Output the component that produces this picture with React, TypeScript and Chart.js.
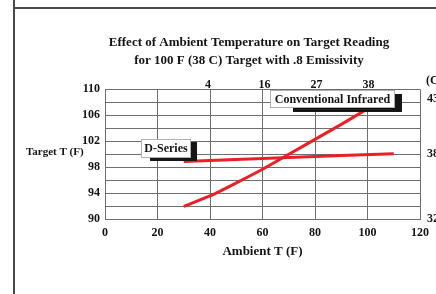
import React, { useEffect, useRef } from 'react';
import { Chart, registerables } from 'chart.js';

Chart.register(...registerables);

const titleLines = [
  'Effect of Ambient Temperature on Target Reading',
  'for 100 F (38 C) Target with .8 Emissivity',
];
const xAxisTitle = 'Ambient T (F)';
const yAxisTitle = 'Target T (F)';
const celsiusUnit = '(C)';

const dSeriesLabel = 'D-Series';
const dSeriesX = [30, 50, 70, 90, 110];
const dSeriesY = [98.9, 99.2, 99.5, 99.8, 100.1];

const conventionalLabel = 'Conventional Infrared';
const conventionalX = [30, 40, 50, 60, 70, 80, 90, 100];
const conventionalY = [92.0, 93.6, 95.6, 97.7, 100.0, 102.3, 104.6, 107.0];

const topTickF = [39.2, 60.8, 80.6, 100.4];
const topTickLabels = ['4', '16', '27', '38'];
const rightTickF = [108.5, 100, 90.1];
const rightTickLabels = ['43', '38', '32'];

const FONT = '"Liberation Serif", "Times New Roman", serif';
const RED = '#ec1f27';
const GRID = '#6e6e6e';
const TEXT = '#141414';

function drawCallout(ctx: CanvasRenderingContext2D, text: string, bx: number, by: number, bw: number, bh: number, sx: number, sy: number, sw: number, sh: number) {
  ctx.save();
  ctx.fillStyle = '#161616';
  ctx.fillRect(sx, sy, sw, sh);
  ctx.fillStyle = '#ffffff';
  ctx.fillRect(bx, by, bw, bh);
  ctx.strokeStyle = '#b0b0b0';
  ctx.lineWidth = 1;
  ctx.strokeRect(bx + 0.5, by + 0.5, bw - 1, bh - 1);
  ctx.fillStyle = TEXT;
  ctx.font = `bold 12px ${FONT}`;
  ctx.textAlign = 'center';
  ctx.textBaseline = 'middle';
  ctx.fillText(text, bx + bw / 2, by + bh / 2 + 0.5);
  ctx.restore();
}

const decorPlugin = {
  id: 'decor',
  beforeDraw(chart: any) {
    const ctx = chart.ctx as CanvasRenderingContext2D;
    ctx.save();
    ctx.fillStyle = '#4a4a4a';
    ctx.fillRect(13, 0, 2, 294);
    ctx.fillRect(13, 7, 436, 2);
    ctx.restore();
  },
  afterDatasetsDraw(chart: any) {
    const ctx = chart.ctx as CanvasRenderingContext2D;
    drawCallout(ctx, dSeriesLabel, 141, 139, 50, 19, 150, 142, 47, 19);
    drawCallout(ctx, conventionalLabel, 270, 90, 125, 18, 293, 94, 109, 18);
  },
  afterDraw(chart: any) {
    const ctx = chart.ctx as CanvasRenderingContext2D;
    ctx.save();
    ctx.fillStyle = TEXT;
    ctx.font = `bold 11px ${FONT}`;
    ctx.textAlign = 'left';
    ctx.textBaseline = 'middle';
    ctx.fillText(yAxisTitle, 26, 152);
    ctx.font = `bold 12px ${FONT}`;
    ctx.fillText(celsiusUnit, 426, 81);
    ctx.restore();
  },
};

export default function App() {
  const canvasRef = useRef<HTMLCanvasElement | null>(null);

  useEffect(() => {
    if (!canvasRef.current) return;
    const tickFont = { family: FONT, size: 12, weight: 'bold' as const, lineHeight: 1.2 };
    const chart = new Chart(canvasRef.current, {
      type: 'line',
      data: {
        datasets: [
          {
            label: dSeriesLabel,
            data: dSeriesX.map((x, i) => ({ x, y: dSeriesY[i] })),
            borderColor: RED,
            borderWidth: 3,
            pointRadius: 0,
            tension: 0,
            fill: false,
            xAxisID: 'x',
            yAxisID: 'y',
          },
          {
            label: conventionalLabel,
            data: conventionalX.map((x, i) => ({ x, y: conventionalY[i] })),
            borderColor: RED,
            borderWidth: 3,
            pointRadius: 0,
            tension: 0.2,
            fill: false,
            xAxisID: 'x',
            yAxisID: 'y',
          },
        ],
      },
      options: {
        animation: false,
        responsive: false,
        devicePixelRatio: 1,
        layout: { padding: { left: 62, right: 0, top: 0, bottom: 0 } },
        plugins: {
          legend: { display: false },
          tooltip: { enabled: false },
          title: {
            display: true,
            text: titleLines,
            color: TEXT,
            font: { family: FONT, size: 13, weight: 'bold', lineHeight: 18 / 13 },
            padding: { top: 34, bottom: 0 },
          },
        },
        scales: {
          x: {
            type: 'linear',
            position: 'bottom',
            min: 0,
            max: 120,
            ticks: { stepSize: 20, font: tickFont, color: TEXT, padding: 6.5, maxRotation: 0, autoSkip: false },
            grid: { color: GRID, lineWidth: 1, drawTicks: false },
            border: { display: true, color: GRID, width: 1 },
            title: {
              display: true,
              text: xAxisTitle,
              color: TEXT,
              font: { family: FONT, size: 13, weight: 'bold', lineHeight: 1.2 },
              padding: { top: 0, bottom: 34.5 },
            },
            afterFit(scale: any) {
              scale.height = 74.7;
            },
          },
          xTop: {
            type: 'linear',
            position: 'top',
            min: 0,
            max: 120,
            afterBuildTicks(scale: any) {
              scale.ticks = topTickF.map((v) => ({ value: v }));
            },
            ticks: {
              font: tickFont,
              color: TEXT,
              padding: -3,
              maxRotation: 0,
              autoSkip: false,
              callback: (_v: any, i: number) => topTickLabels[i],
            },
            grid: { display: false, drawTicks: false },
            border: { display: false },
            afterFit(scale: any) {
              scale.height = 19.3;
            },
          },
          y: {
            type: 'linear',
            position: 'left',
            min: 90,
            max: 110,
            ticks: {
              stepSize: 2,
              autoSkip: false,
              font: tickFont,
              color: TEXT,
              padding: 5,
              callback: (v: any) => (Number(v) % 4 === 2 ? String(v) : ''),
            },
            grid: { color: GRID, lineWidth: 1, drawTicks: false },
            border: { display: true, color: GRID, width: 1 },
            afterFit(scale: any) {
              scale.width = 43;
            },
          },
          yRight: {
            type: 'linear',
            position: 'right',
            min: 90,
            max: 110,
            afterBuildTicks(scale: any) {
              scale.ticks = rightTickF.map((v) => ({ value: v }));
            },
            ticks: {
              font: tickFont,
              color: TEXT,
              padding: 7,
              autoSkip: false,
              callback: (_v: any, i: number) => rightTickLabels[i],
            },
            grid: { display: false, drawTicks: false },
            border: { display: false },
            afterFit(scale: any) {
              scale.width = 16;
            },
          },
        },
      } as any,
      plugins: [decorPlugin],
    });
    return () => chart.destroy();
  }, []);

  return (
    <div style={{ position: 'fixed', left: 0, top: 0, width: 436, height: 294, background: '#fff' }}>
      <canvas ref={canvasRef} width={436} height={294} style={{ display: 'block' }} />
    </div>
  );
}
